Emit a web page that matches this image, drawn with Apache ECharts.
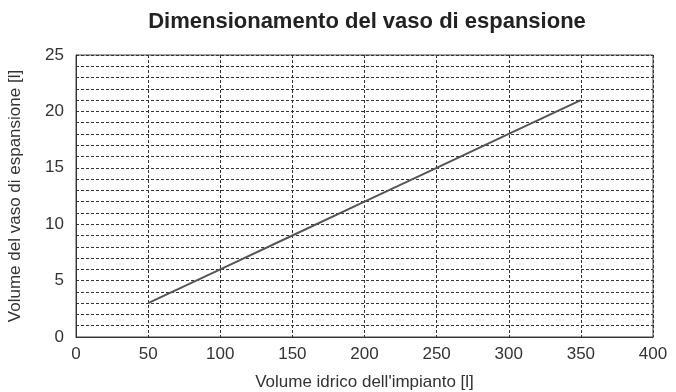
<!DOCTYPE html>
<html>
<head>
<meta charset="utf-8">
<script src="https://cdn.jsdelivr.net/npm/echarts@6/dist/echarts.min.js"></script>
<style>
  html, body { margin: 0; padding: 0; background: #fff; }
  #chart { width: 676px; height: 392px; }
</style>
</head>
<body>
<div id="chart"></div>
<script>
// volume impianto [l] -> volume vaso [l]
const volumeImpianto = [50, 100, 150, 200, 250, 300, 350];
const volumeVaso = [3, 6, 9, 12, 15, 18, 21];
const xTicks = [0, 50, 100, 150, 200, 250, 300, 350, 400];
const yTicks = [0, 5, 10, 15, 20, 25];

const fontColor = '#333';
const gridColor = '#333';
const fontFam = 'Liberation Sans, Arial';

let myChart = echarts.init(document.getElementById('chart'));
myChart.setOption({
    animation: false,
    title: {
        text: 'Dimensionamento del vaso di espansione',
        left: 362,
        top: 6,
        textAlign: 'center',
        textStyle: {
            fontFamily: fontFam,
            fontSize: 22,
            fontWeight: 'bold',
            color: '#222'
        }
    },
    grid: {
        left: 76,
        right: 23,
        top: 55,
        bottom: 55,
        outerBoundsMode: 'none',
        containLabel: false,
        show: true,
        borderColor: '#444',
        borderWidth: 1
    },
    xAxis: {
        type: 'value',
        min: 0,
        max: 400,
        interval: 50,
        name: "Volume idrico dell'impianto [l]",
        nameLocation: 'middle',
        nameGap: 37,
        nameTextStyle: {fontFamily: fontFam, fontSize: 17, color: fontColor},
        axisLine: {show: true, lineStyle: {color: '#333', width: 1}},
        axisTick: {show: false},
        axisLabel: {
            fontFamily: fontFam,
            fontSize: 17,
            color: fontColor,
            margin: 9,
            formatter: (v) => xTicks.includes(v) ? String(v) : ''
        },
        splitLine: {show: true, lineStyle: {color: gridColor, type: [3, 2], width: 1}}
    },
    yAxis: {
        type: 'value',
        min: 0,
        max: 25,
        interval: 1,
        name: 'Volume del vaso di espansione [l]',
        nameLocation: 'middle',
        nameGap: 52,
        nameTextStyle: {fontFamily: fontFam, fontSize: 17, color: fontColor},
        axisLine: {show: true, lineStyle: {color: '#333', width: 1}},
        axisTick: {show: false},
        axisLabel: {
            fontFamily: fontFam,
            fontSize: 17,
            color: fontColor,
            margin: 12,
            formatter: (v) => yTicks.includes(v) ? String(v) : ''
        },
        splitLine: {show: true, lineStyle: {color: gridColor, type: [3, 2], width: 1}}
    },
    series: [{
        type: 'line',
        data: volumeImpianto.map((x, i) => [x, volumeVaso[i]]),
        showSymbol: false,
        lineStyle: {color: '#555', width: 2}
    }]
});
</script>
</body>
</html>
